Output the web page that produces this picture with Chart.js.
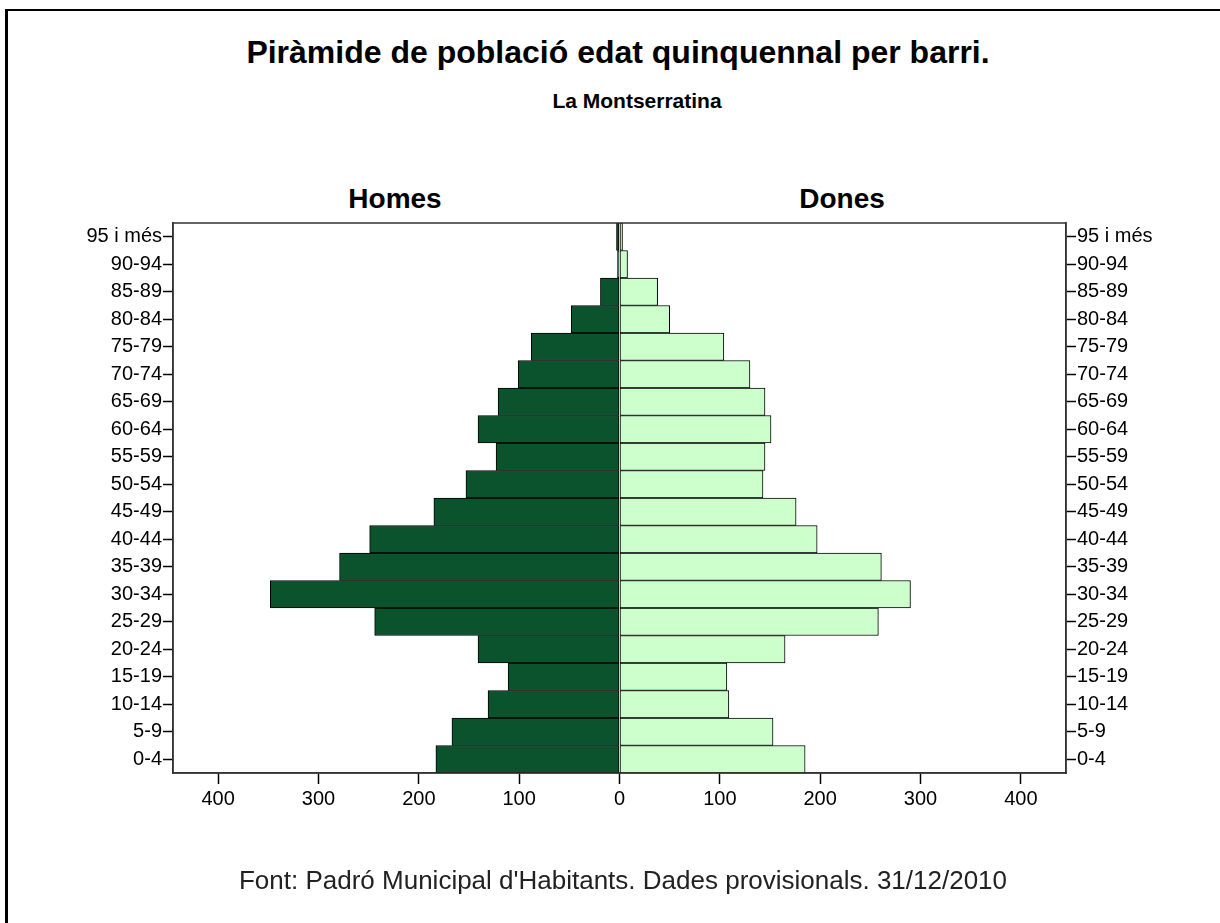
<!DOCTYPE html>
<html lang="ca">
<head>
  <meta charset="UTF-8">
  <title>Piràmide de població - La Montserratina</title>
  <script src="https://cdn.jsdelivr.net/npm/chart.js"></script>
  <style>
    html, body {
      margin: 0;
      padding: 0;
      background: #fff;
      font-family: Arial, "Liberation Sans", sans-serif;
      overflow: hidden;
    }

    .page {
      position: relative;
      width: 1220px;
      height: 923px;
      overflow: hidden;
    }

    .line-top {
      position: absolute;
      left: 5px;
      top: 9px;
      width: 1215px;
      height: 2px;
      background: #000;
    }

    .line-left {
      position: absolute;
      left: 5px;
      top: 9px;
      width: 3px;
      height: 914px;
      background: #000;
    }

    .txt {
      position: absolute;
      white-space: nowrap;
      transform: translate(-50%, -50%);
      color: #000;
    }

    .title { left: 618px; top: 52px; font-size: 32px; font-weight: bold; }
    .subtitle { left: 637px; top: 101px; font-size: 21px; font-weight: bold; }
    .side { top: 199px; font-size: 28px; font-weight: bold; }
    .footer { left: 623px; top: 880px; font-size: 26px; color: #222; }

    canvas {
      position: absolute;
      left: 0;
      top: 0;
    }
  </style>
</head>
<body>

<div class="page">
  <div class="line-top"></div>
  <div class="line-left"></div>
  <div class="txt title">Piràmide de població edat quinquennal per barri.</div>
  <div class="txt subtitle">La Montserratina</div>
  <div class="txt side" style="left: 395px;">Homes</div>
  <div class="txt side" style="left: 842px;">Dones</div>
  <canvas id="chart" width="1220" height="923"></canvas>
  <div class="txt footer">Font: Padró Municipal d'Habitants. Dades provisionals. 31/12/2010</div>
</div>

<script>
  // grups d'edat, de dalt a baix
  const ageGroups = ['95 i més', '90-94', '85-89', '80-84', '75-79', '70-74', '65-69', '60-64',
    '55-59', '50-54', '45-49', '40-44', '35-39', '30-34', '25-29', '20-24', '15-19', '10-14', '5-9', '0-4'];
  const homes = [3, 2, 19, 48, 88, 101, 121, 141, 123, 153, 185, 249, 279, 348, 244, 141, 111, 131, 167, 183];
  const dones = [3, 8, 38, 50, 104, 130, 145, 151, 145, 143, 176, 197, 261, 290, 258, 165, 107, 109, 153, 185];
  const xTicks = [-400, -300, -200, -100, 0, 100, 200, 300, 400];

  Chart.defaults.font.family = 'Arial, "Liberation Sans", sans-serif';
  Chart.defaults.color = '#000';

  const boxPlugin = {
    id: 'plotBox',
    afterDraw(chart) {
      const a = chart.chartArea;
      const c = chart.ctx;
      c.save();
      c.strokeStyle = '#333';
      c.lineWidth = 1.5;
      c.strokeRect(a.left, a.top, a.right - a.left, a.bottom - a.top);
      c.restore();
    }
  };

  const tickFont = { size: 20 };
  // ticks al centre de cada grup, no entre grups
  const catGrid = { offset: false, drawOnChartArea: false, tickLength: 10, tickColor: '#000', tickWidth: 1.5 };

  new Chart(document.getElementById('chart'), {
    type: 'bar',
    data: {
      labels: ageGroups,
      datasets: [
        {
          label: 'Homes',
          data: homes.map(v => -v),
          backgroundColor: '#0b532d',
          borderColor: '#000',
          borderWidth: 1,
          borderSkipped: false,
          barPercentage: 1,
          categoryPercentage: 1
        },
        {
          label: 'Dones',
          data: dones,
          backgroundColor: '#ccffcc',
          borderColor: '#000',
          borderWidth: 1,
          borderSkipped: false,
          barPercentage: 1,
          categoryPercentage: 1
        }
      ]
    },
    options: {
      indexAxis: 'y',
      responsive: false,
      animation: false,
      layout: { padding: { top: 223, bottom: 110, left: 0, right: 0 } },
      plugins: {
        legend: { display: false },
        title: { display: false },
        tooltip: { enabled: false }
      },
      scales: {
        x: {
          type: 'linear',
          stacked: true,
          min: -445,
          max: 445,
          afterBuildTicks: axis => { axis.ticks = xTicks.map(v => ({ value: v })); },
          afterFit: axis => { axis.height = 40; },
          ticks: { font: tickFont, padding: 3, maxRotation: 0, callback: v => Math.abs(v) },
          grid: { drawOnChartArea: false, tickLength: 11, tickColor: '#000', tickWidth: 1.5 },
          border: { color: '#333', width: 1.5 }
        },
        y: {
          type: 'category',
          position: 'left',
          stacked: true,
          afterFit: axis => { axis.width = 173; },
          ticks: { font: tickFont, padding: 1, autoSkip: false },
          grid: catGrid,
          border: { color: '#333', width: 1.5 }
        },
        y2: {
          type: 'category',
          position: 'right',
          labels: ageGroups,
          offset: true,
          afterFit: axis => { axis.width = 154; },
          ticks: { font: tickFont, padding: 1, autoSkip: false },
          grid: catGrid,
          border: { color: '#333', width: 1.5 }
        }
      }
    },
    plugins: [boxPlugin]
  });
</script>

</body>
</html>
